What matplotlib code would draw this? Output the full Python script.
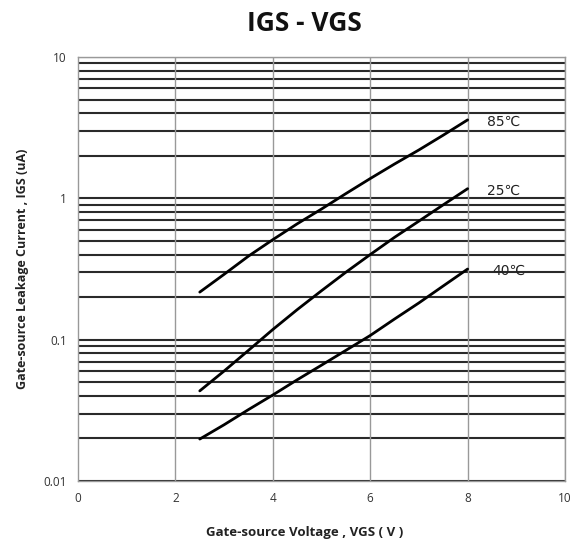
import matplotlib
matplotlib.use("Agg")
import matplotlib.pyplot as plt
import numpy as np
from matplotlib.ticker import FixedLocator, NullLocator

vgs = [2.5, 3, 3.5, 4, 4.5, 5, 5.5, 6, 6.5, 7, 7.5, 8]
igs_85 = [0.217, 0.29, 0.39, 0.51, 0.66, 0.84, 1.08, 1.38, 1.75, 2.2, 2.8, 3.59]
igs_25 = [0.0434, 0.060, 0.084, 0.118, 0.163, 0.222, 0.30, 0.40, 0.53, 0.69, 0.90, 1.17]
igs_40 = [0.0198, 0.025, 0.032, 0.0406, 0.052, 0.066, 0.084, 0.107, 0.140, 0.182, 0.24, 0.316]
labels = ["85\u2103", "25\u2103", "40\u2103"]
x_ticks = [0, 2, 4, 6, 8, 10]
y_ticks = [0.01, 0.1, 1, 10]
y_ticklabels = ["0.01", "0.1", "1", "10"]

plt.rcParams['font.family'] = ['Open Sans', 'DejaVu Sans']

fig = plt.figure(figsize=(5.84, 5.54), dpi=100)
ax = fig.add_axes([0.1336, 0.1318, 0.8339, 0.7653])
ax.set_yscale('log')
ax.set_xlim(0, 10)
ax.set_ylim(0.01, 10)

hlines = [m * 10.0**e for e in (-2, -1, 0) for m in range(1, 10)] + [10]
for h in hlines:
    ax.axhline(h, color='#2a2a2a', lw=1.5, zorder=1)
for xv in x_ticks[1:]:
    ax.axvline(xv, color='#999999', lw=1.0, zorder=1)

for ys in (igs_85, igs_25, igs_40):
    ax.plot(vgs, ys, color='black', lw=2.0, zorder=3, solid_capstyle='round', solid_joinstyle='round')

ax.text(8.4, igs_85[-1]*0.97, labels[0], fontsize=10, va='center', ha='left', family=['DejaVu Sans'], color='#222222')
ax.text(8.4, igs_25[-1]*0.96, labels[1], fontsize=10, va='center', ha='left', family=['DejaVu Sans'], color='#222222')
ax.text(8.5, igs_40[-1]*0.97, labels[2], fontsize=10, va='center', ha='left', family=['DejaVu Sans'], color='#222222')

ax.xaxis.set_major_locator(FixedLocator(x_ticks))
ax.yaxis.set_major_locator(FixedLocator(y_ticks))
ax.yaxis.set_minor_locator(NullLocator())
ax.set_yticklabels(y_ticklabels)
ax.tick_params(length=0, labelsize=8.5, colors='#333333', pad=8)
for s in ax.spines.values():
    s.set_color('#999999')
    s.set_linewidth(1.0)

fig.text(0.522, 0.958, "IGS - VGS", fontsize=19, fontweight='bold', ha='center', va='center', color='#111111')
fig.text(0.522, 0.038, "Gate-source Voltage , VGS ( V )", fontsize=9.5, fontweight='bold', ha='center', va='center', color='#222222')
fig.text(0.038, 0.515, "Gate-source Leakage Current , IGS (uA)", fontsize=9, fontweight='bold', ha='center', va='center', rotation=90, color='#222222')

fig.savefig("out.png", dpi=100)
